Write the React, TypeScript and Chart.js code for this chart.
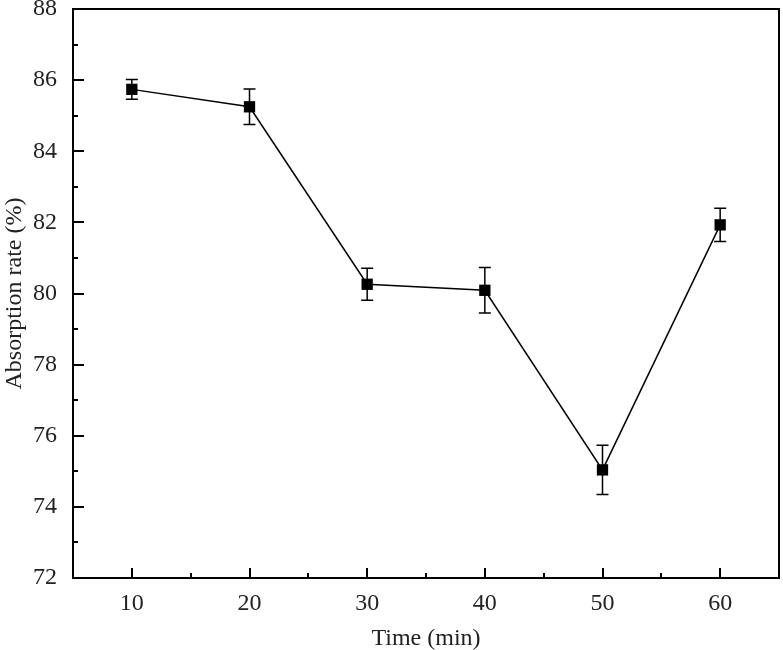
import React, { useEffect, useRef } from "react";
import { Chart, registerables } from "chart.js";

Chart.register(...registerables);

const times = [10, 20, 30, 40, 50, 60];
const rates = [85.74, 85.25, 80.26, 80.09, 75.04, 81.93];
const errors = [0.28, 0.5, 0.45, 0.64, 0.69, 0.47];
const xTickValues = [10, 20, 30, 40, 50, 60];
const xMinorValues = [15, 25, 35, 45, 55];
const yTickValues = [72, 74, 76, 78, 80, 82, 84, 86, 88];
const yMinorValues = [73, 75, 77, 79, 81, 83, 85, 87];

const FONT = "'Liberation Serif', 'Times New Roman', serif";

const decorPlugin = {
  id: "decor",
  afterDatasetsDraw(chart: any) {
    const { ctx, chartArea, scales } = chart;
    const xs = scales.x;
    const ys = scales.y;
    ctx.save();
    ctx.strokeStyle = "#000";
    ctx.lineWidth = 1.5;
    times.forEach((t, i) => {
      const px = xs.getPixelForValue(t);
      const top = ys.getPixelForValue(rates[i] + errors[i]);
      const bot = ys.getPixelForValue(rates[i] - errors[i]);
      ctx.beginPath();
      ctx.moveTo(px, top);
      ctx.lineTo(px, bot);
      ctx.moveTo(px - 6, top);
      ctx.lineTo(px + 6, top);
      ctx.moveTo(px - 6, bot);
      ctx.lineTo(px + 6, bot);
      ctx.stroke();
    });
    ctx.lineWidth = 2;
    ctx.strokeRect(chartArea.left, chartArea.top, chartArea.right - chartArea.left, chartArea.bottom - chartArea.top);
    ctx.beginPath();
    xTickValues.forEach((v) => {
      const p = Math.round(xs.getPixelForValue(v));
      ctx.moveTo(p, chartArea.bottom);
      ctx.lineTo(p, chartArea.bottom - 10);
    });
    xMinorValues.forEach((v) => {
      const p = Math.round(xs.getPixelForValue(v));
      ctx.moveTo(p, chartArea.bottom);
      ctx.lineTo(p, chartArea.bottom - 5);
    });
    yTickValues.forEach((v) => {
      const p = Math.round(ys.getPixelForValue(v));
      ctx.moveTo(chartArea.left, p);
      ctx.lineTo(chartArea.left + 11, p);
    });
    yMinorValues.forEach((v) => {
      const p = Math.round(ys.getPixelForValue(v));
      ctx.moveTo(chartArea.left, p);
      ctx.lineTo(chartArea.left + 5, p);
    });
    ctx.stroke();
    ctx.restore();
  },
};

function zeroPad(s: any) {
  s.paddingTop = 0;
  s.paddingBottom = 0;
  s.paddingLeft = 0;
  s.paddingRight = 0;
}

export default function App() {
  const ref = useRef<HTMLCanvasElement>(null);
  useEffect(() => {
    if (!ref.current) return;
    const chart = new Chart(ref.current, {
      type: "line",
      data: {
        datasets: [
          {
            data: times.map((t, i) => ({ x: t, y: rates[i] })),
            borderColor: "#000",
            borderWidth: 1.5,
            backgroundColor: "#000",
            pointStyle: "rect",
            pointRadius: 8,
            pointBorderWidth: 0,
            pointBackgroundColor: "#000",
            tension: 0,
          },
        ],
      },
      options: {
        animation: false,
        responsive: false,
        maintainAspectRatio: false,
        layout: { autoPadding: false, padding: { top: 9, right: 4, left: 0, bottom: 0 } },
        plugins: { legend: { display: false }, tooltip: { enabled: false } },
        scales: {
          x: {
            type: "linear",
            min: 5,
            max: 65,
            afterBuildTicks: (s: any) => {
              s.ticks = xTickValues.map((v) => ({ value: v }));
            },
            afterFit: (s: any) => {
              s.height = 72;
              zeroPad(s);
            },
            grid: { display: false, drawTicks: false },
            border: { display: false },
            ticks: {
              padding: 11,
              color: "#222",
              font: { family: FONT, size: 24 },
            },
            title: {
              display: true,
              text: "Time (min)",
              color: "#222",
              font: { family: FONT, size: 24, lineHeight: 1 },
              padding: { top: 0, bottom: -1 },
            },
          },
          y: {
            type: "linear",
            min: 72,
            max: 88,
            afterBuildTicks: (s: any) => {
              s.ticks = yTickValues.map((v) => ({ value: v }));
            },
            afterFit: (s: any) => {
              s.width = 73;
              zeroPad(s);
            },
            grid: { display: false, drawTicks: false },
            border: { display: false },
            ticks: {
              padding: 16,
              color: "#222",
              font: { family: FONT, size: 24 },
            },
            title: {
              display: true,
              text: "Absorption rate (%)",
              color: "#222",
              font: { family: FONT, size: 24 },
              padding: { top: 0, bottom: 0 },
            },
          },
        },
      },
      plugins: [decorPlugin],
    });
    return () => chart.destroy();
  }, []);
  return (
    <div style={{ position: "fixed", left: 0, top: 0, width: 783, height: 650, background: "#fff" }}>
      <canvas ref={ref} width={783} height={650} style={{ width: 783, height: 650 }} />
    </div>
  );
}
